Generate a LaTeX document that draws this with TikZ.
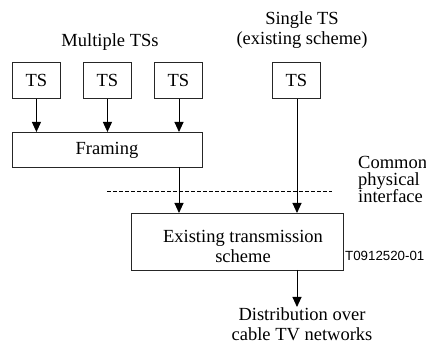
\documentclass[tikz,border=0pt]{standalone}
\usepackage{fontspec}
\setmainfont{Liberation Serif}
\newfontfamily\labfont{Liberation Sans}
\usetikzlibrary{arrows.meta}
\begin{document}
\begin{tikzpicture}[x=1pt,y=-1pt,
  every node/.style={font=\rmfamily\fontsize{18.5}{21}\selectfont, inner sep=0pt},
  blk/.style={draw=black!85, line width=0.9pt, anchor=north west},
  conn/.style={line width=0.9pt},
  arr/.style={conn, -{Triangle[width=9pt,length=10pt]}}]
\useasboundingbox (0,0) rectangle (426,347);
% source boxes
\node[blk, minimum width=48pt, minimum height=36pt] (ts1) at (12,62) {TS};
\node[blk, minimum width=48pt, minimum height=36pt] (ts2) at (83,62) {TS};
\node[blk, minimum width=48pt, minimum height=36pt] (ts3) at (154,62) {TS};
\node[blk, minimum width=48pt, minimum height=36pt] (ts4) at (272,62) {TS};
% framing and transmission
\node[blk, minimum width=190pt, minimum height=35pt] (fr) at (12,132) {};
\node (frt) at (107,150) {Framing};
\node[blk, minimum width=212pt, minimum height=57pt] (ex) at (131,213) {};
\node[align=center] (ext) at (243,246) {Existing transmission\\[-1pt]scheme};
% labels
\node (mul) at (110,42) {Multiple TSs};
\node[align=center] (sgl) at (302,30) {Single TS\\[-1pt](existing scheme)};
\node[anchor=north west, align=left] (com) at (358,156) {Common\\[-4pt]physical\\[-4pt]interface};
\node[font=\labfont\fontsize{13.3}{15}\selectfont, anchor=west] (code) at (345,256) {T0912520-01};
\node[align=center, anchor=north] (dist) at (302,307) {Distribution over\\[-1pt]cable TV networks};
% dashed interface line
\coordinate (dl) at (107,191);
\coordinate (dr) at (332,191);
\draw[conn, line width=0.7pt, dash pattern=on 4pt off 2pt] (dl) -- (dr);
% connectors
\draw[arr] (ts1.south) -- (ts1.south |- fr.north);
\draw[arr] (ts2.south) -- (ts2.south |- fr.north);
\draw[arr] (ts3.south -| 179,0) -- (179,132);
\draw[arr] (179,167) -- (179,213);
\draw[arr] (ts4.south -| 297,0) -- (297,213);
\draw[arr] (297,270) -- (dist.north -| 297,0);
\end{tikzpicture}
\end{document}
